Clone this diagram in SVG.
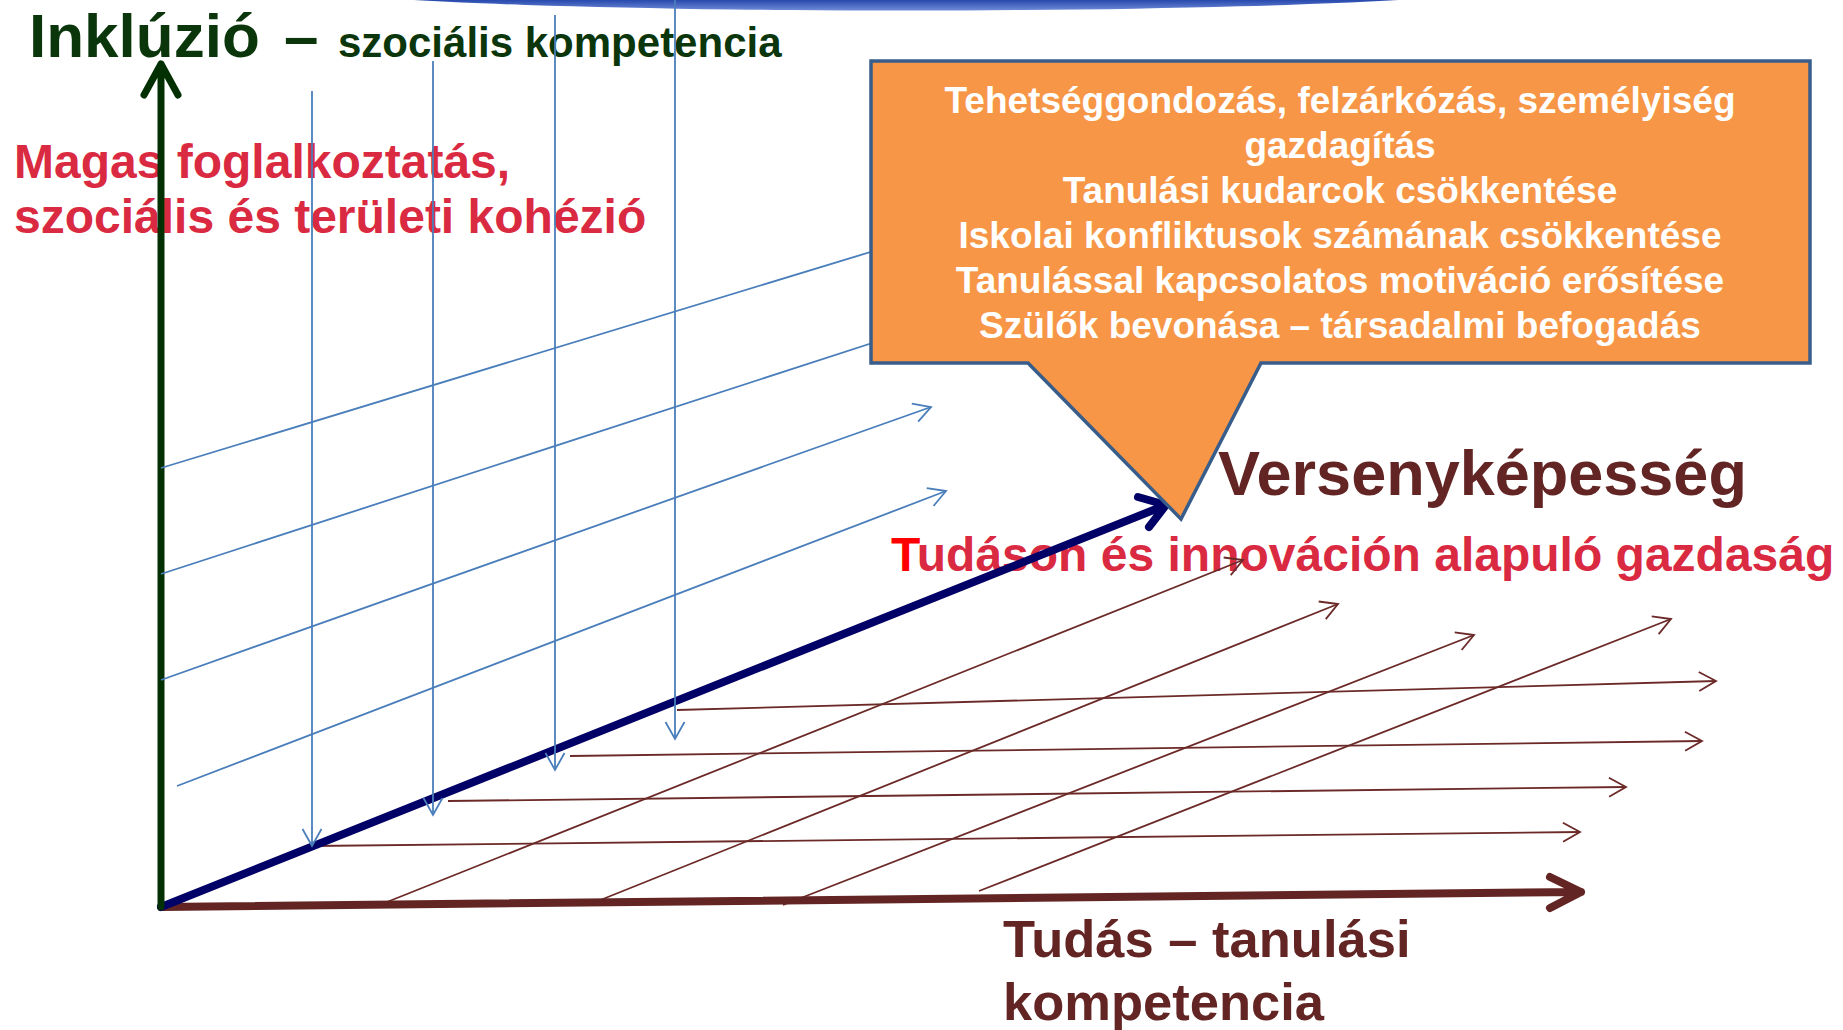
<svg xmlns="http://www.w3.org/2000/svg" width="1843" height="1030" viewBox="0 0 1843 1030">
<style>
text{font-family:"Liberation Sans",Arial,sans-serif;font-weight:bold}
.green{fill:#0B360B}
.red{fill:#DA2A41}
.brown{fill:#632523}
.callt{fill:#FFFFFF;font-size:37px;text-anchor:middle}
.blue{stroke:#4A7EBB;stroke-width:1.8;fill:none}
.bthin{stroke:#6B2A28;stroke-width:1.8;fill:none}
</style>
<defs>
<linearGradient id="arcg" x1="0" y1="0" x2="0" y2="1">
<stop offset="0" stop-color="#1C3B9C"/>
<stop offset="0.8" stop-color="#2C4DB0"/>
<stop offset="1" stop-color="#6F8BD8"/>
</linearGradient>
<marker id="mb" markerUnits="userSpaceOnUse" markerWidth="40" markerHeight="40" viewBox="-20 -20 40 40" refX="0" refY="0" orient="auto" overflow="visible">
<path d="M-17,-9.5 L0,0 L-17,9.5" fill="none" stroke="#4A7EBB" stroke-width="1.8"/>
</marker>
<marker id="mr" markerUnits="userSpaceOnUse" markerWidth="40" markerHeight="40" viewBox="-20 -20 40 40" refX="0" refY="0" orient="auto" overflow="visible">
<path d="M-17,-9.5 L0,0 L-17,9.5" fill="none" stroke="#6B2A28" stroke-width="1.8"/>
</marker>
</defs>

<ellipse id="toparc" cx="906" cy="-14" rx="600" ry="24.5" fill="url(#arcg)"/>

<g id="labels">
<text x="29" y="57" class="green" font-size="62">Inklúzió<tspan x="284">–</tspan><tspan x="338" font-size="42">szociális kompetencia</tspan></text>
<text x="14" y="178" class="red" font-size="48">Magas foglalkoztatás,</text>
<text x="14" y="233" class="red" font-size="48">szociális és területi kohézió</text>
<text x="1218" y="495" class="brown" font-size="63">Versenyképesség</text>
<text x="891" y="571" class="red" font-size="48"><tspan fill="#FF0000">T</tspan>udáson és innováción alapuló gazdaság</text>
<text x="1003" y="957" class="brown" font-size="52.5">Tudás – tanulási</text>
<text x="1003" y="1020" class="brown" font-size="52.5">kompetencia</text>
</g>

<g id="connectors">
<line class="bthin" x1="677" y1="710" x2="1716" y2="681" marker-end="url(#mr)"/>
<line class="bthin" x1="570" y1="756" x2="1702" y2="741" marker-end="url(#mr)"/>
<line class="bthin" x1="448" y1="801" x2="1626" y2="787" marker-end="url(#mr)"/>
<line class="bthin" x1="312" y1="846" x2="1580" y2="832" marker-end="url(#mr)"/>
<line class="bthin" x1="387" y1="902" x2="1243" y2="560" marker-end="url(#mr)"/>
<line class="bthin" x1="588" y1="905" x2="1338" y2="604" marker-end="url(#mr)"/>
<line class="bthin" x1="783" y1="905" x2="1474" y2="635" marker-end="url(#mr)"/>
<line class="bthin" x1="979" y1="891" x2="1671" y2="619" marker-end="url(#mr)"/>
<path d="M161,907 L1581,892 M1550,877 L1581,892 L1550,908" fill="none" stroke="#632523" stroke-width="8" stroke-linecap="round" stroke-linejoin="round"/>
<path d="M161,907 L1166,505 M1138,497 L1166,505 L1149,527" fill="none" stroke="#000066" stroke-width="8" stroke-linecap="round" stroke-linejoin="round"/>
<path d="M161,907 L161,64 M144,95 L161,64 L178,95" fill="none" stroke="#033003" stroke-width="7" stroke-linecap="round" stroke-linejoin="round"/>
<line class="blue" x1="161" y1="468" x2="900" y2="243"/>
<line class="blue" x1="161" y1="574" x2="900" y2="334"/>
<line class="blue" x1="161" y1="680" x2="931" y2="407" marker-end="url(#mb)"/>
<line class="blue" x1="177" y1="786" x2="946" y2="491" marker-end="url(#mb)"/>
<line class="blue" x1="312" y1="91" x2="312" y2="846" marker-end="url(#mb)"/>
<line class="blue" x1="433" y1="61" x2="433" y2="815" marker-end="url(#mb)"/>
<line class="blue" x1="555" y1="15" x2="555" y2="770" marker-end="url(#mb)"/>
<line class="blue" x1="675" y1="0" x2="675" y2="739" marker-end="url(#mb)"/>
</g>

<g id="callout">
<path d="M871,61 L1810,61 L1810,363 L1261,363 L1181,519 L1028,363 L871,363 Z" fill="#F79646" stroke="#385D8A" stroke-width="3.5" stroke-linejoin="miter"/>
<text class="callt" x="1340" y="113">Tehetséggondozás, felzárkózás, személyiség</text>
<text class="callt" x="1340" y="158">gazdagítás</text>
<text class="callt" x="1340" y="203">Tanulási kudarcok csökkentése</text>
<text class="callt" x="1340" y="248">Iskolai konfliktusok számának csökkentése</text>
<text class="callt" x="1340" y="293">Tanulással kapcsolatos motiváció erősítése</text>
<text class="callt" x="1340" y="338">Szülők bevonása – társadalmi befogadás</text>
</g>
</svg>
